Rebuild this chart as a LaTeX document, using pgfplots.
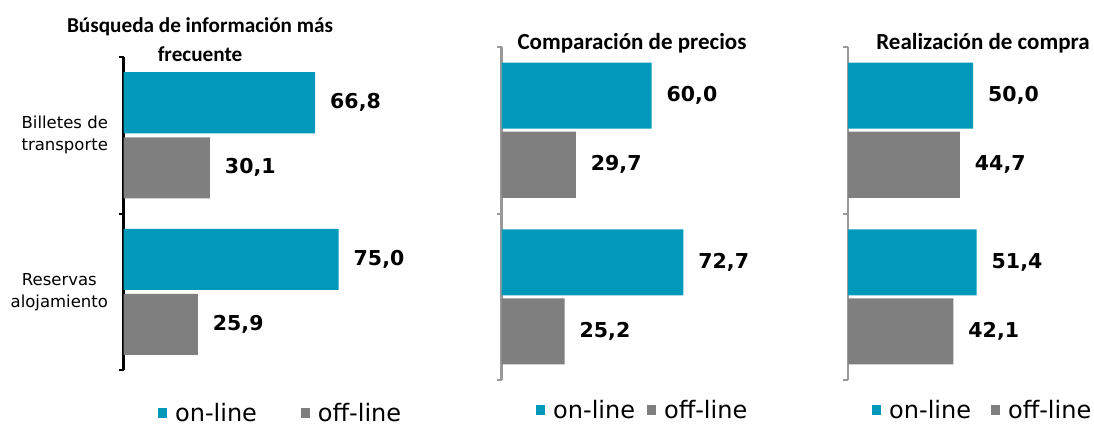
\documentclass[border=0pt]{standalone}
\usepackage{fontspec}
\setmainfont{DejaVu Sans}
\newfontfamily\titlefont{Carlito}
\usepackage{pgfplots}
\pgfplotsset{compat=1.18}

\definecolor{online}{HTML}{0099BA}
\definecolor{offline}{HTML}{7F7F7F}
\definecolor{axisgray}{HTML}{999999}

\pgfplotsset{
  panel/.style={
    xbar, scale only axis, anchor=south west,
    xmin=0, xmax=100, ymin=0, ymax=2,
    hide x axis, axis y line*=left,
    ytick={0,1,2}, yticklabels={},
    major tick length=5pt, tick align=outside,
    clip=false,
    /pgf/number format/fixed, /pgf/number format/fixed zerofill,
    /pgf/number format/precision=1, /pgf/number format/use comma,
    /pgf/number format/assume math mode=true,
    nodes near coords,
    every node near coord/.append style={font=\bfseries\fontsize{20.5}{24}\selectfont,
      anchor=west, inner sep=0pt, xshift=15pt, black},
    title style={font=\titlefont\bfseries\fontsize{23}{30}\selectfont, align=center,
      anchor=base, inner sep=0pt, yshift=-9pt},
    legend image code/.code={\fill[##1,draw=none] (0pt,-5pt) rectangle (9pt,5pt);},
    legend style={draw=none, fill=none, legend columns=-1, inner sep=0pt,
      font=\fontsize{24}{28}\selectfont, cells={anchor=west},
      /tikz/every odd column/.append style={column sep=6pt}},
  }
}

\begin{document}
\begin{tikzpicture}
% panel 1
\begin{axis}[panel, at={(123.5pt,56pt)}, width=286.7pt, height=313pt, bar width=61pt,
  axis line style={black, line width=2.5pt}, tick style={black, line width=2pt},
  extra y ticks={0.5,1.5},
  extra y tick labels={Reservas\\alojamiento, Billetes de\\transporte},
  extra y tick style={major tick length=0pt,
    yticklabel style={align=center, xshift=-12pt, font=\fontsize{16.5}{22}\selectfont}},
  title={Búsqueda de información más\\frecuente},
  title style={at={(axis description cs:0.267,1)}, yshift=-1pt,
    font=\titlefont\bfseries\fontsize{21.2}{29}\selectfont},
  legend style={at={(0.12,-0.137)}, anchor=west,
    /tikz/every even column/.append style={column sep=42pt}}]
\addplot[fill=online, draw=none, bar shift=32.5pt] coordinates {(75.0,0.5) (66.8,1.5)};
\addplot[fill=offline, draw=none, bar shift=-32.5pt] coordinates {(25.9,0.5) (30.1,1.5)};
\legend{on-line, off-line}
\end{axis}
% panel 2
\begin{axis}[panel, at={(501.5pt,46pt)}, width=250pt, height=333pt, bar width=66pt,
  axis line style={axisgray, line width=2.5pt}, tick style={axisgray, line width=2pt},
  title={Comparación de precios},
  title style={at={(axis description cs:0.522,1)}},
  legend style={at={(0.138,-0.09)}, anchor=west,
    /tikz/every even column/.append style={column sep=10pt}}]
\addplot[fill=online, draw=none, bar shift=34.5pt] coordinates {(72.7,0.5) (60.0,1.5)};
\addplot[fill=offline, draw=none, bar shift=-34.5pt] coordinates {(25.2,0.5) (29.7,1.5)};
\legend{on-line, off-line}
\end{axis}
% panel 3
\begin{axis}[panel, at={(848pt,46pt)}, width=250pt, height=333pt, bar width=66pt,
  axis line style={axisgray, line width=2.5pt}, tick style={axisgray, line width=2pt},
  title={Realización de compra},
  title style={at={(axis description cs:0.54,1)}},
  legend style={at={(0.096,-0.09)}, anchor=west,
    /tikz/every even column/.append style={column sep=18pt}}]
\addplot[fill=online, draw=none, bar shift=34.5pt] coordinates {(51.4,0.5) (50.0,1.5)};
\addplot[fill=offline, draw=none, bar shift=-34.5pt] coordinates {(42.1,0.5) (44.7,1.5)};
\legend{on-line, off-line}
\end{axis}
\pgfresetboundingbox
\useasboundingbox (0pt,0pt) rectangle (1094pt,426pt);
\end{tikzpicture}
\end{document}
